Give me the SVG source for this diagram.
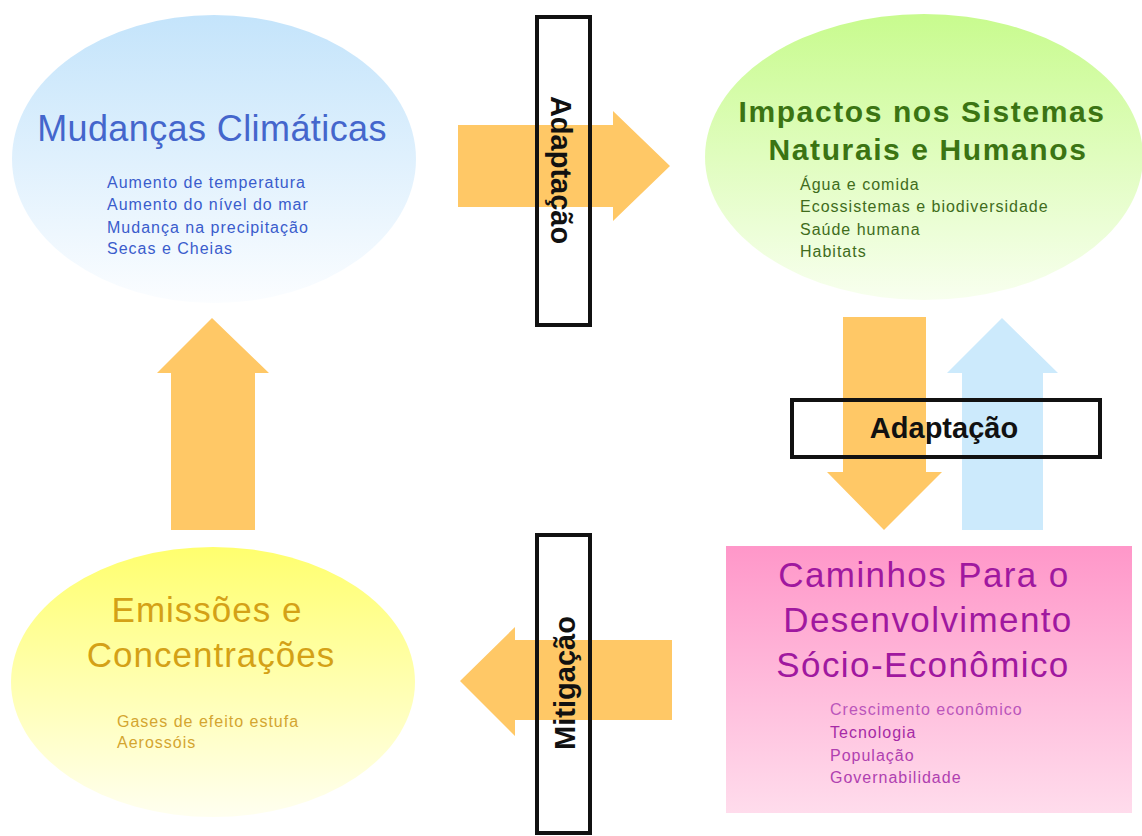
<svg xmlns="http://www.w3.org/2000/svg" width="1142" height="836" viewBox="0 0 1142 836">
  <defs>
    <linearGradient id="gBlue" x1="0" y1="0" x2="0" y2="1">
      <stop offset="0" stop-color="#c4e4fb"/>
      <stop offset="1" stop-color="#fbfdff"/>
    </linearGradient>
    <linearGradient id="gGreen" x1="0" y1="0" x2="0" y2="1">
      <stop offset="0" stop-color="#c8fb8e"/>
      <stop offset="1" stop-color="#f8ffef"/>
    </linearGradient>
    <linearGradient id="gYellow" x1="0" y1="0" x2="0" y2="1">
      <stop offset="0" stop-color="#ffff6e"/>
      <stop offset="1" stop-color="#fffff0"/>
    </linearGradient>
    <linearGradient id="gPink" x1="0" y1="0" x2="0" y2="1">
      <stop offset="0" stop-color="#ff97c9"/>
      <stop offset="1" stop-color="#ffdcec"/>
    </linearGradient>
  </defs>
  <style>
    text { font-family: "Liberation Sans", Arial, sans-serif; }
    .item { font-size: 16px; letter-spacing: 1px; }
    .orange { fill: #ffc866; }
    .blueArrow { fill: #cceafc; }
    .label { fill: none; stroke: #111; stroke-width: 4; }
    .labelText { font-size: 29px; font-weight: bold; fill: #111; }
  </style>

  <rect width="1142" height="836" fill="#ffffff"/>

  <!-- Mudanças Climáticas -->
  <g id="mudancas">
    <ellipse cx="214" cy="159" rx="202" ry="144" fill="url(#gBlue)"/>
    <text x="212" y="141" text-anchor="middle" font-size="36" letter-spacing="0.4" fill="#4466cc">Mudanças Climáticas</text>
    <g class="item" fill="#3a5ccc">
      <text x="107" y="188">Aumento de temperatura</text>
      <text x="107" y="210">Aumento do nível do mar</text>
      <text x="107" y="233">Mudança na precipitação</text>
      <text x="107" y="254">Secas e Cheias</text>
    </g>
  </g>

  <!-- Impactos nos Sistemas Naturais e Humanos -->
  <g id="impactos">
    <ellipse cx="924" cy="157" rx="219" ry="143" fill="url(#gGreen)"/>
    <g font-size="30" font-weight="bold" letter-spacing="1.6" fill="#3b7413" text-anchor="middle">
      <text x="922" y="122">Impactos nos Sistemas</text>
      <text x="928" y="160">Naturais e Humanos</text>
    </g>
    <g class="item" fill="#3f6c1c" letter-spacing="0.9">
      <text x="800" y="190">Água e comida</text>
      <text x="800" y="212">Ecossistemas e biodiversidade</text>
      <text x="800" y="235">Saúde humana</text>
      <text x="800" y="257">Habitats</text>
    </g>
  </g>

  <!-- Emissões e Concentrações -->
  <g id="emissoes">
    <ellipse cx="213" cy="682" rx="202" ry="135" fill="url(#gYellow)"/>
    <g font-size="35" letter-spacing="1" fill="#d4a116" text-anchor="middle">
      <text x="207" y="622">Emissões e</text>
      <text x="211" y="667">Concentrações</text>
    </g>
    <g class="item" fill="#d4a530">
      <text x="117" y="727">Gases de efeito estufa</text>
      <text x="117" y="748">Aerossóis</text>
    </g>
  </g>

  <!-- Caminhos Para o Desenvolvimento Sócio-Econômico -->
  <g id="caminhos">
    <rect x="726" y="546" width="406" height="267" fill="url(#gPink)"/>
    <g font-size="35" letter-spacing="1.4" fill="#a0189f" text-anchor="middle">
      <text x="924" y="587">Caminhos Para o</text>
      <text x="928" y="632">Desenvolvimento</text>
      <text x="923" y="677">Sócio-Econômico</text>
    </g>
    <g class="item" fill="#a62aa6">
      <text x="830" y="715" fill="#bb55bb">Crescimento econômico</text>
      <text x="830" y="738">Tecnologia</text>
      <text x="830" y="761" fill="#b040b0">População</text>
      <text x="830" y="783" fill="#b040b0">Governabilidade</text>
    </g>
  </g>

  <!-- Connectors: block arrows with their labels -->
  <g id="connectors">
    <!-- Mudanças -> Impactos (Adaptação) -->
    <path class="orange" d="M458,125 H613 V111 L670,166 L613,221 V207 H458 Z"/>
    <rect class="label" x="537" y="17" width="53" height="308"/>
    <text class="labelText" transform="translate(561,170) rotate(90)" y="10" text-anchor="middle">Adaptação</text>

    <!-- Impactos <-> Caminhos (Adaptação) -->
    <path class="orange" d="M843,317 H926 V472 H942 L884,530 L827,472 H843 Z"/>
    <path class="blueArrow" d="M962,530 V373 H947 L1002,318 L1058,373 H1043 V530 Z"/>
    <rect class="label" x="792" y="400" width="308" height="57"/>
    <text class="labelText" x="944" y="438" text-anchor="middle">Adaptação</text>

    <!-- Caminhos -> Emissões (Mitigação) -->
    <path class="orange" d="M672,640 H515 V627 L460,681 L515,736 V720 H672 Z"/>
    <rect class="label" x="537" y="535" width="53" height="298"/>
    <text class="labelText" transform="translate(565,683) rotate(-90)" y="10" text-anchor="middle">Mitigação</text>

    <!-- Emissões -> Mudanças -->
    <path class="orange" d="M171,530 V373 H157 L212,318 L269,373 H255 V530 Z"/>
  </g>
</svg>
